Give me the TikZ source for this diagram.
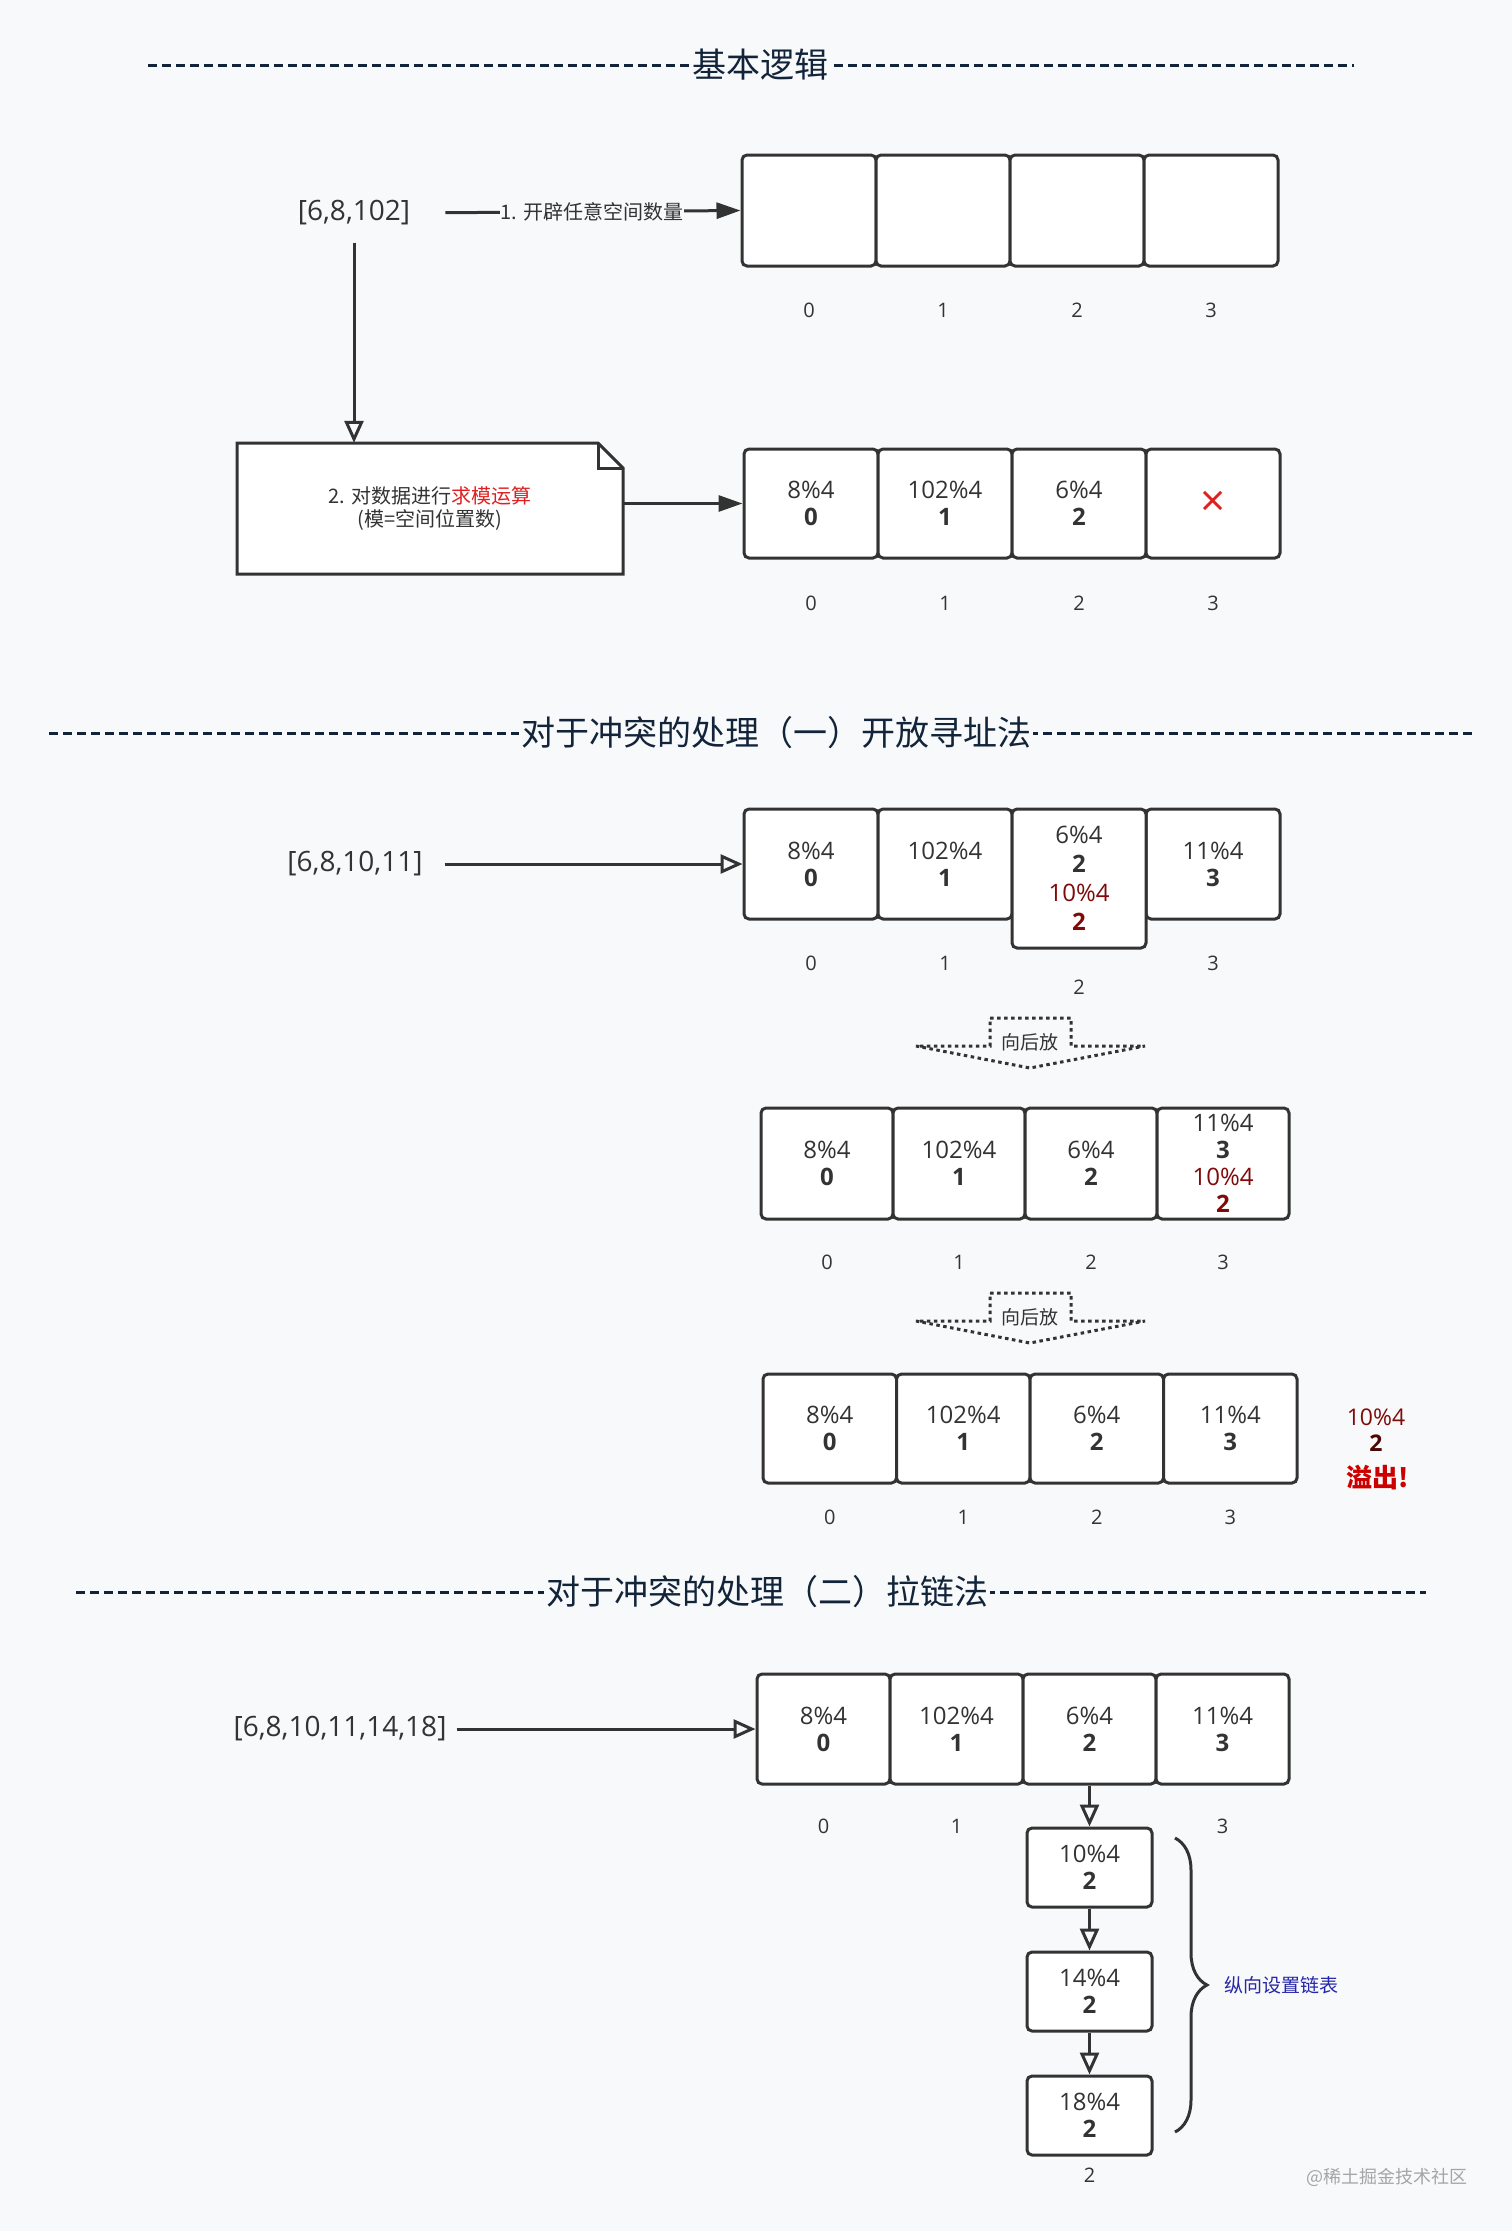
\documentclass[tikz,border=0pt]{standalone}
\usepackage{fontspec}
\setmainfont{Open Sans}
\newfontfamily\cjk{Noto Sans CJK SC}
\usetikzlibrary{arrows.meta,calc,decorations.pathreplacing}

\definecolor{paper}{RGB}{248,249,250}
\definecolor{ink}{RGB}{51,51,51}
\definecolor{navy}{RGB}{18,36,58}
\definecolor{modred}{RGB}{224,32,32}
\definecolor{hitred}{RGB}{128,10,10}
\definecolor{overred}{RGB}{204,0,0}
\definecolor{chainblue}{RGB}{38,38,170}
\definecolor{markgray}{RGB}{165,165,165}

% one slot of the table: value%4 over its bold index
\newcommand\modcell[2]{#1\%4\\\textbf{#2}}

\tikzset{
	sep/.style={draw=navy, line width=3pt, dash pattern=on 9pt off 5pt},
	title/.style={fill=paper, inner xsep=2pt, text=navy, font=\cjk\fontsize{34}{40}\selectfont},
	input/.style={inner sep=0pt, text=ink, font=\fontsize{28}{32}\selectfont},
	cell/.style={ draw=ink, fill=white, line width=3pt, rounded corners=5pt
	            , minimum width=134pt, minimum height=110pt, inner sep=0pt
	            , align=center, text=ink, font=\fontsize{24}{27}\selectfont},
	idx/.style={text=ink, font=\fontsize{20}{24}\selectfont},
	link/.style={draw=ink, line width=3pt, -{Triangle[length=24pt,width=16pt]}},
	hollow/.style={draw=ink, line width=3pt, -{Triangle[open,length=22pt,width=19pt]}},
	move/.style={draw=ink, line width=3pt, dash pattern=on 3.5pt off 3.5pt},
	small/.style={text=ink, font=\cjk\fontsize{19}{22}\selectfont},
}

\begin{document}
\begin{tikzpicture}[x=1pt, y=-1pt]
	% Canvas
	\fill [paper] (0, 0) rectangle (1512, 2231);
	\useasboundingbox (0, 0) rectangle (1512, 2231);

	% Headings
	\foreach \y/\xa/\xb/\xm/\lab [count=\h] in
		{ 65/148/1354/760/基本逻辑
		, 733/49/1472/776/对于冲突的处理（一）开放寻址法
		, 1592/76/1426/767/对于冲突的处理（二）拉链法
		}{
		\draw [sep] (\xa, \y) -- (\xb, \y);
		\node (head\h) [title] at (\xm, \y) {\lab};
	}

	% ---- Basic logic ----
	\node (in1) [input] at (354, 213) {[6,8,102]};

	\foreach \i in {0,...,3}{
		\node (a\i) [cell, minimum height=111pt] at (809 + 134*\i, 210.5) {};
		\node (ia\i) [idx] at ($(a\i) + (0, 100)$) {\i};
	}

	% note with folded corner
	\draw [ink, fill=white, line width=3pt]
	      (237, 443) --
	      (598, 443) --
	      (623, 468) --
	      (623, 574) --
	      (237, 574) -- cycle;
	\draw [ink, line width=3pt] (598, 443) |- (623, 468);
	\node (note)
	      [ minimum width=386pt
	      , minimum height=131pt
	      , align=center
	      , text=ink
	      , font=\cjk\fontsize{20}{23}\selectfont
	      ]
	      at (430, 508.5)
	      {2. 对数据进行\textcolor{modred}{求模运算}\\(模=空间位置数)};

	\foreach \v/\r [count=\i from 0] in {8/0, 102/1, 6/2}{
		\node (b\i) [cell, minimum height=109pt] at (811 + 134*\i, 503.5) {\modcell{\v}{\r}};
	}
	\node (b3)
	      [ cell
	      , minimum height=109pt
	      , text=modred
	      , font=\fontsize{44}{44}\selectfont
	      ]
	      at (1213, 503.5)
	      {×};
	\foreach \i in {0,...,3}{
		\node (ib\i) [idx] at ($(b\i) + (0, 99.5)$) {\i};
	}

	\draw [link, shorten <=35pt] (in1.east) -- (a0.west)
	      node (step1) [pos=0.55, fill=paper, inner sep=1pt, small, font=\cjk\fontsize{20}{22}\selectfont] {1. 开辟任意空间数量};
	\draw [hollow, shorten <=17pt] (in1.south) -- (in1.south |- note.north);
	\draw [link] (note.east |- b0) -- (b0.west);

	% ---- Open addressing ----
	\node (in2) [input] at (355, 864) {[6,8,10,11]};

	\foreach \v/\r [count=\i from 0] in {8/0, 102/1}{
		\node (c\i) [cell] at (811 + 134*\i, 864) {\modcell{\v}{\r}};
	}
	\node (c3) [cell] at (1213, 864) {\modcell{11}{3}};
	\node (c2)
	      [ cell
	      , minimum height=139pt
	      , font=\fontsize{24}{29}\selectfont
	      ]
	      at (1079, 878.5)
	      {\modcell{6}{2}\\\textcolor{hitred}{10\%4}\\\textcolor{hitred}{\textbf{2}}};
	\foreach \i/\d in {0/99, 1/99, 2/108.5, 3/99}{
		\node (ic\i) [idx] at ($(c\i) + (0, \d)$) {\i};
	}
	\draw [hollow, shorten <=22pt] (in2.east) -- (c0.west);

	% push back arrows
	\foreach \y [count=\k] in {1018, 1293}{
		\draw [move]
		      (990, \y) --
		      (1071, \y) --
		      (1071, \y+28) --
		      (1145, \y+28) --
		      (1030, \y+50) --
		      (916, \y+28) --
		      (990, \y+28) -- cycle;
		\node (push\k) [small] at (1030, \y+24) {向后放};
	}

	\foreach \v/\r [count=\i from 0] in {8/0, 102/1, 6/2}{
		\node (d\i) [cell, minimum width=132pt, minimum height=111pt] at (827 + 132*\i, 1163.5) {\modcell{\v}{\r}};
	}
	\node (d3)
	      [ cell
	      , minimum width=132pt
	      , minimum height=111pt
	      ]
	      at (1223, 1163.5)
	      {\modcell{11}{3}\\\textcolor{hitred}{10\%4}\\\textcolor{hitred}{\textbf{2}}};
	\foreach \i in {0,...,3}{
		\node (id\i) [idx] at ($(d\i) + (0, 98.5)$) {\i};
	}

	\foreach \v/\r [count=\i from 0] in {8/0, 102/1, 6/2, 11/3}{
		\node (e\i) [cell, minimum width=133.5pt, minimum height=109pt] at (829.75 + 133.5*\i, 1428.5) {\modcell{\v}{\r}};
		\node (ie\i) [idx] at ($(e\i) + (0, 88.5)$) {\i};
	}

	% overflow
	\node (ov1) [text=hitred, font=\fontsize{23}{26}\selectfont] at (1376, 1417) {10\%4};
	\node (ov2) [text=hitred!60!black, font=\bfseries\fontsize{23}{26}\selectfont] at (1376, 1443) {2};
	\node (ov3) [text=overred, font=\cjk\bfseries\fontsize{26}{30}\selectfont] at (1378, 1478) {溢出!};

	% ---- Chaining ----
	\node (in3) [input] at (340, 1729) {[6,8,10,11,14,18]};

	\foreach \v/\r [count=\i from 0] in {8/0, 102/1, 6/2, 11/3}{
		\node (f\i) [cell, minimum width=133pt] at (823.5 + 133*\i, 1729) {\modcell{\v}{\r}};
	}
	\foreach \i in {0, 1, 3}{
		\node (if\i) [idx] at ($(f\i) + (0, 97)$) {\i};
	}
	\draw [hollow, shorten <=10pt] (in3.east) -- (f0.west);

	\foreach \v [count=\k from 0] in {10, 14, 18}{
		\node (g\k) [cell, minimum width=125pt, minimum height=79pt] at (1089.5, 1867.5 + 124*\k) {\modcell{\v}{2}};
	}
	\node (if2) [idx] at ($(g2) + (0, 60)$) {2};

	\draw [hollow] (f2.south) -- (g0.north);
	\draw [hollow] (g0.south) -- (g1.north);
	\draw [hollow] (g1.south) -- (g2.north);

	% brace
	\draw [ink, line width=3pt, decorate, decoration={brace, amplitude=32pt}]
	      (1175, 1838) -- (1175, 2132);
	\node (chainnote) [small, text=chainblue] at (1281, 1985) {纵向设置链表};

	% Footer
	\node (mark) [text=markgray, font=\cjk\fontsize{18}{20}\selectfont] at (1387, 2177) {@稀土掘金技术社区};
\end{tikzpicture}
\end{document}
